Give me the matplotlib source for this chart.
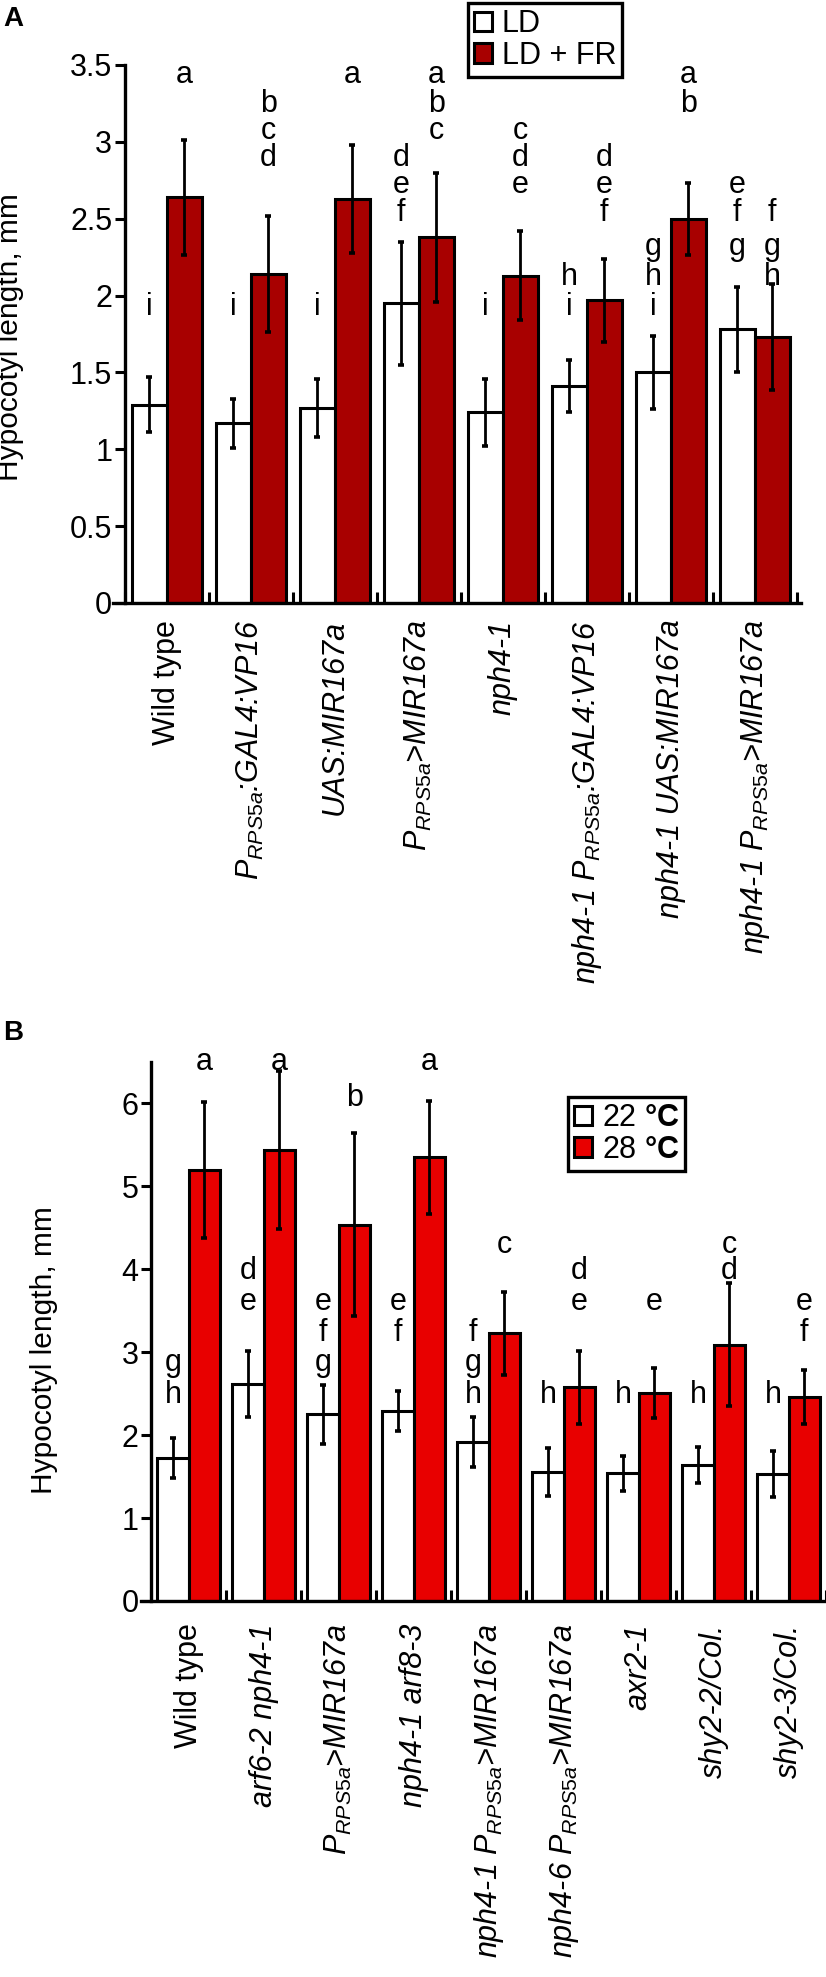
import matplotlib
matplotlib.use('Agg')
import matplotlib.pyplot as plt
from matplotlib.patches import Patch
import numpy as np

plt.rcParams['font.family'] = ['Liberation Sans', 'DejaVu Sans']
plt.rcParams['mathtext.fontset'] = 'custom'
plt.rcParams['mathtext.rm'] = 'Liberation Sans'
plt.rcParams['mathtext.it'] = 'Liberation Sans:italic'
plt.rcParams['mathtext.bf'] = 'Liberation Sans:bold'

P = r'$\mathit{P}_{\mathit{RPS5a}}$'

# ---- panel A data ----
labels_a = ['Wild type', P + ':GAL4:VP16', 'UAS:MIR167a', P + '>MIR167a', 'nph4-1',
            'nph4-1 ' + P + ':GAL4:VP16', 'nph4-1 UAS:MIR167a', 'nph4-1 ' + P + '>MIR167a']
ld = [1.29, 1.17, 1.27, 1.95, 1.24, 1.41, 1.50, 1.78]
ld_err = [0.18, 0.16, 0.19, 0.40, 0.22, 0.17, 0.24, 0.275]
ldfr = [2.64, 2.14, 2.63, 2.38, 2.13, 1.97, 2.50, 1.73]
ldfr_err = [0.375, 0.375, 0.35, 0.42, 0.29, 0.27, 0.235, 0.345]
ld_letters = ['i', 'i', 'i', 'def', 'i', 'hi', 'ghi', 'efg']
ldfr_letters = ['a', 'bcd', 'a', 'abc', 'cde', 'def', 'ab', 'fgh']
rows_a = {'a': 3.435, 'b': 3.247, 'c': 3.071, 'd': 2.895, 'e': 2.72,
          'f': 2.537, 'g': 2.316, 'h': 2.121, 'i': 1.926}

# ---- panel B data ----
labels_b = ['Wild type', 'arf6-2 nph4-1', P + '>MIR167a', 'nph4-1 arf8-3',
            'nph4-1 ' + P + '>MIR167a', 'nph4-6 ' + P + '>MIR167a', 'axr2-1',
            'shy2-2/Col.', 'shy2-3/Col.']
t22 = [1.72, 2.62, 2.25, 2.29, 1.92, 1.56, 1.54, 1.64, 1.53]
t22_err = [0.24, 0.40, 0.36, 0.24, 0.30, 0.29, 0.21, 0.22, 0.28]
t28 = [5.20, 5.44, 4.54, 5.35, 3.23, 2.58, 2.51, 3.09, 2.46]
t28_err = [0.82, 0.95, 1.10, 0.68, 0.50, 0.44, 0.30, 0.74, 0.33]
t22_letters = ['gh', 'de', 'efg', 'ef', 'fgh', 'h', 'h', 'h', 'h']
t28_letters = ['a', 'a', 'b', 'a', 'c', 'de', 'e', 'cd', 'ef']
rows_b = {'a': 6.50, 'b': 6.07, 'c': 4.29, 'd': 3.98, 'e': 3.61,
          'f': 3.23, 'g': 2.87, 'h': 2.48}

W, H = 826, 1977
fig = plt.figure(figsize=(W / 100, H / 100), dpi=100)


def panel(rect, labels, white, werr, red, rerr, color, wlet, rlet, rows,
          ylim, yticks, xlim, xpad, ylab_xy, leg_labels, leg_xy):
    ax = fig.add_axes(rect)
    n = len(labels)
    x = np.arange(n)
    w = 0.415
    ax.bar(x - w / 2, white, w, color='white', edgecolor='black', linewidth=2.2, zorder=2)
    ax.bar(x + w / 2, red, w, color=color, edgecolor='black', linewidth=2.2, zorder=2)
    ax.errorbar(x - w / 2, white, yerr=werr, fmt='none', ecolor='black',
                elinewidth=2, capsize=2.5, capthick=2.6, zorder=3)
    ax.errorbar(x + w / 2, red, yerr=rerr, fmt='none', ecolor='black',
                elinewidth=2, capsize=2.5, capthick=2.6, zorder=3)
    for xi, letters in zip(x - w / 2, wlet):
        for ch in letters:
            ax.text(xi, rows[ch], ch, ha='center', va='center', fontsize=22)
    for xi, letters in zip(x + w / 2, rlet):
        for ch in letters:
            ax.text(xi, rows[ch], ch, ha='center', va='center', fontsize=22)

    ax.set_xlim(*xlim)
    ax.set_ylim(*ylim)
    ax.spines['top'].set_visible(False)
    ax.spines['right'].set_visible(False)
    ax.spines['left'].set_position(('data', -0.5))
    for s in ('left', 'bottom'):
        ax.spines[s].set_linewidth(2.4)
    ax.set_yticks(yticks)
    ax.set_yticklabels(['%g' % t for t in yticks])
    ax.tick_params(axis='y', direction='out', length=7, width=2.2, labelsize=22, pad=2)
    ax.set_xticks(x)
    ax.set_xticklabels(labels, rotation=90)
    ax.set_xticks(np.arange(-0.5, n, 1), minor=True)
    ax.tick_params(axis='x', which='major', length=0, labelsize=22, pad=xpad)
    ax.tick_params(axis='x', which='minor', direction='in', length=8, width=2.2)
    for t in ax.get_xticklabels():
        if t.get_text() != 'Wild type':
            t.set_fontstyle('italic')
    ax.set_ylabel('Hypocotyl length, mm', fontsize=21.5)
    ax.yaxis.set_label_coords(*ylab_xy)

    handles = [Patch(facecolor='white', edgecolor='black', linewidth=2.2),
               Patch(facecolor=color, edgecolor='black', linewidth=2.2)]
    leg = fig.legend(handles, leg_labels, loc='upper left', bbox_to_anchor=leg_xy,
                     fancybox=False, edgecolor='black', framealpha=1, fontsize=22,
                     handlelength=0.6, handleheight=0.6, handletextpad=0.3,
                     borderpad=0.2, labelspacing=0.05, borderaxespad=0)
    leg.get_frame().set_linewidth(2.4)
    return ax


panel([113 / W, 1 - 603 / H, 688 / W, 538 / H], labels_a, ld, ld_err, ldfr, ldfr_err,
      '#a80000', ld_letters, ldfr_letters, rows_a, (0, 3.5),
      [0, 0.5, 1, 1.5, 2, 2.5, 3, 3.5], (-0.64, 7.55), 12, (-0.129, 0.494),
      ['LD', 'LD + FR'], (468 / W, 1 - 3 / H))

panel([141 / W, 1 - 1601 / H, 685 / W, 539 / H], labels_b, t22, t22_err, t28, t28_err,
      '#e80000', t22_letters, t28_letters, rows_b, (0, 6.5),
      [0, 1, 2, 3, 4, 5, 6], (-0.635, 8.43), 16, (-0.121, 0.466),
      [r'22 $\mathbf{°C}$', r'28 $\mathbf{°C}$'], (568 / W, 1 - 1097 / H))

fig.text(3 / W, 1 - 6 / H, 'A', fontsize=20, fontweight='bold', va='top')
fig.text(3 / W, 1 - 1020 / H, 'B', fontsize=20, fontweight='bold', va='top')

fig.savefig('out.png', dpi=100)
